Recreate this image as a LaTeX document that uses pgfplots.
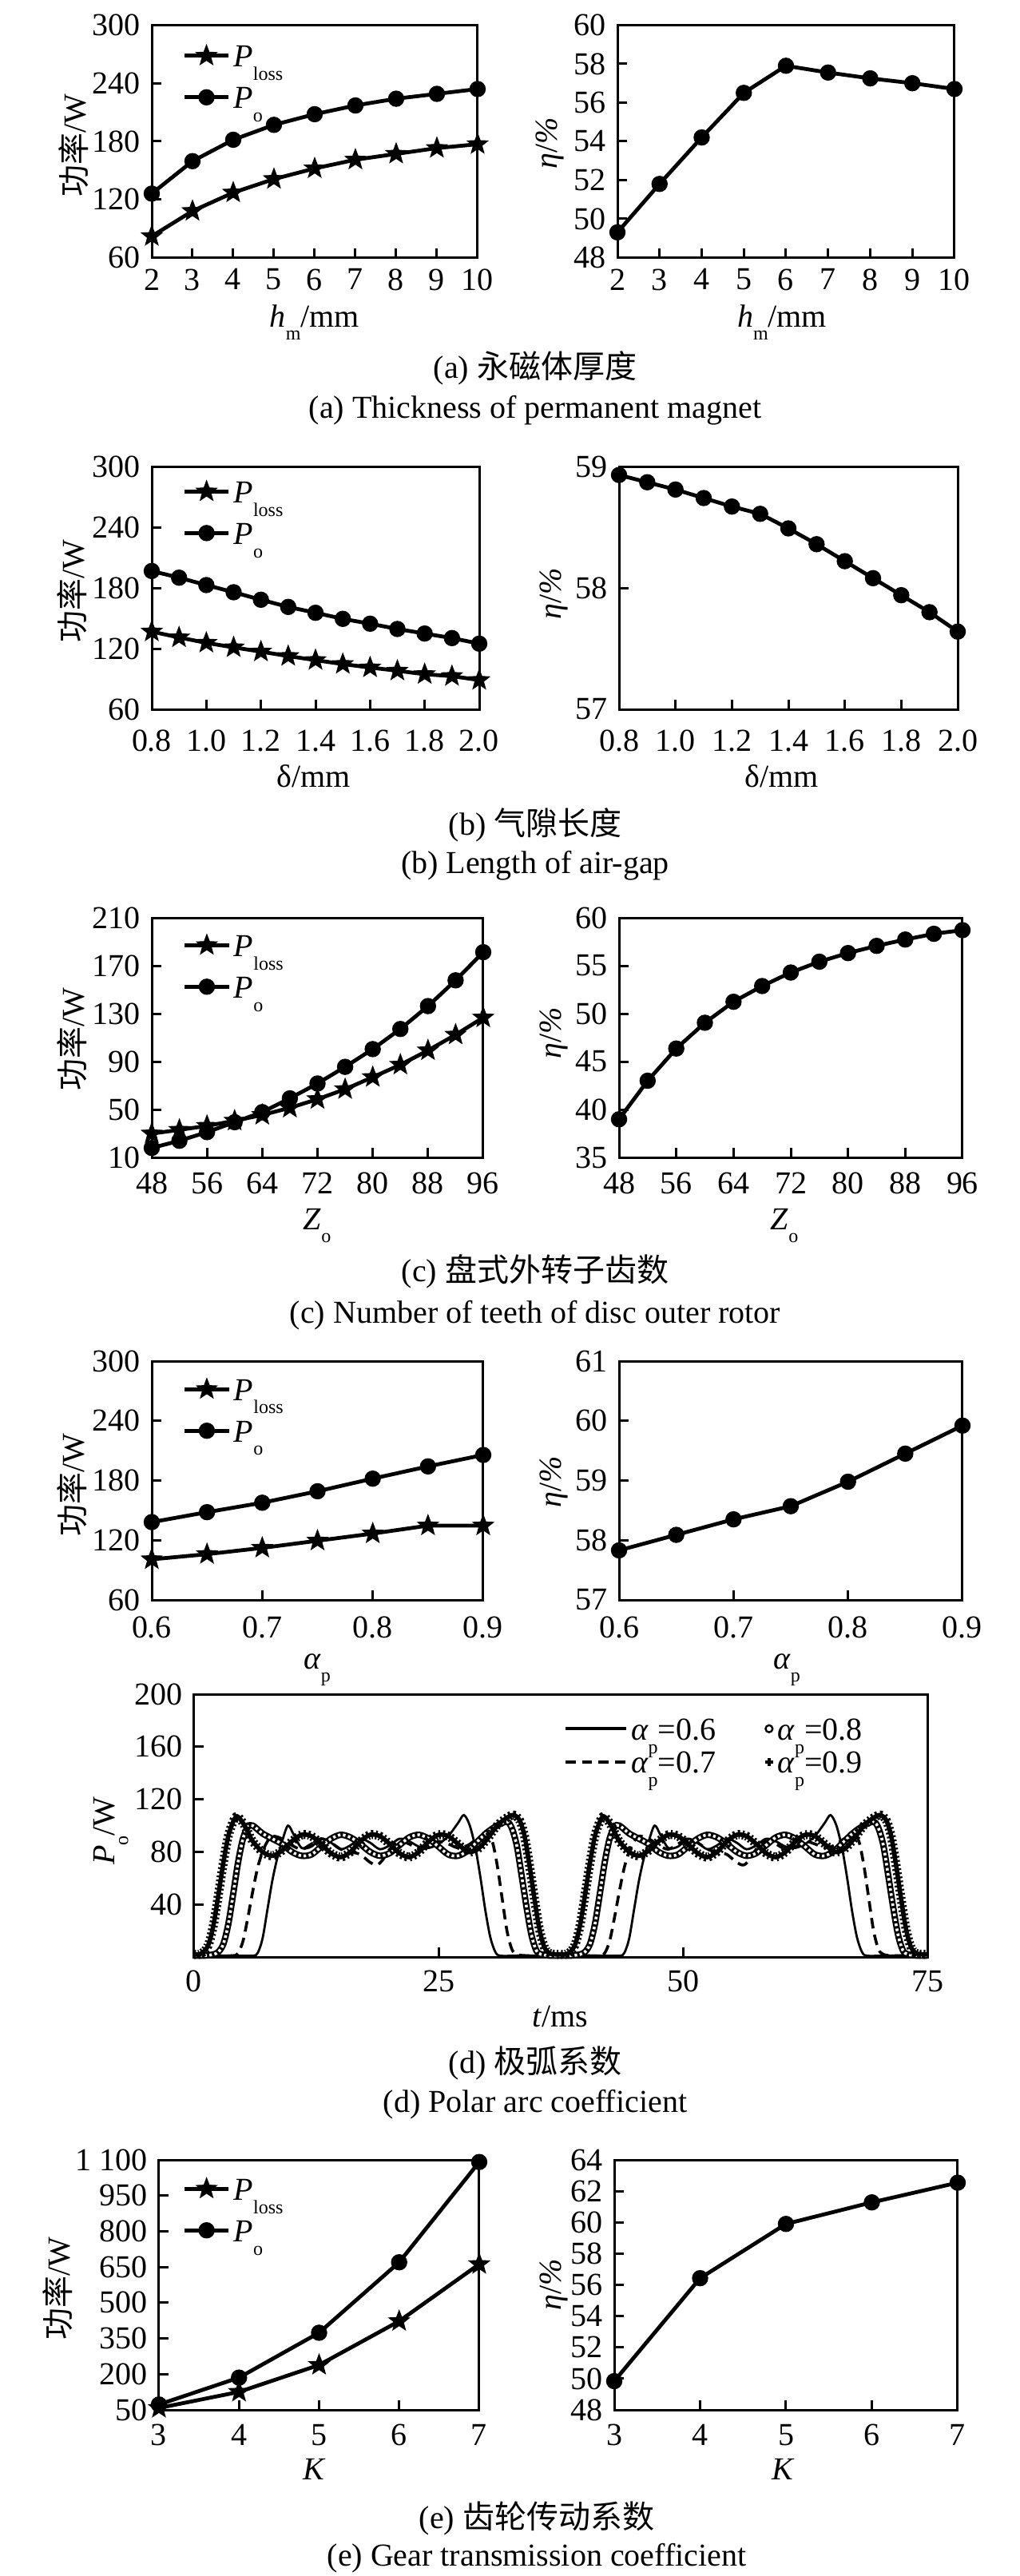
\documentclass[border=0pt]{standalone}
\usepackage{fontspec}
\setmainfont{Liberation Serif}
\newfontfamily\cjk{Noto Sans CJK SC}
\usepackage{pgfplots}
\pgfplotsset{compat=1.18}

% filled five-point star
\pgfdeclareplotmark{fstar}{%
  \pgfpathmoveto{\pgfpointpolar{90}{\pgfplotmarksize}}%
  \pgfpathlineto{\pgfpointpolar{126}{0.42*\pgfplotmarksize}}%
  \pgfpathlineto{\pgfpointpolar{162}{\pgfplotmarksize}}%
  \pgfpathlineto{\pgfpointpolar{198}{0.42*\pgfplotmarksize}}%
  \pgfpathlineto{\pgfpointpolar{234}{\pgfplotmarksize}}%
  \pgfpathlineto{\pgfpointpolar{270}{0.42*\pgfplotmarksize}}%
  \pgfpathlineto{\pgfpointpolar{306}{\pgfplotmarksize}}%
  \pgfpathlineto{\pgfpointpolar{342}{0.42*\pgfplotmarksize}}%
  \pgfpathlineto{\pgfpointpolar{18}{\pgfplotmarksize}}%
  \pgfpathlineto{\pgfpointpolar{54}{0.42*\pgfplotmarksize}}%
  \pgfpathclose
  \pgfusepathqfillstroke}

\newcommand\sub[1]{\raisebox{-4.2pt}{\fontsize{6}{7}\selectfont #1}}
\newcommand\gl{{\cjk 功率}/W}
\newcommand\el{\textit{η}/\textit{\%}}

\pgfplotsset{
  panel/.style={scale only axis, clip=false,
    axis line style={line width=0.75pt},
    tick pos=left, tick align=inside, major tick length=2.9pt,
    tick style={line width=0.75pt, black},
    every tick label/.append style={font=\fontsize{10}{12}\selectfont},
    /pgf/number format/assume math mode=true,
    legend cell align=left,
    legend style={draw=none, fill=none, font=\fontsize{10}{12}\selectfont,
      nodes={inner sep=1pt, text height=7pt, text depth=0pt}, row sep=4pt},
    legend image code/.code={\draw[mark repeat=2,mark phase=2,##1]
      plot coordinates {(0pt,0pt)(6.9pt,0pt)(13.8pt,0pt)};}},
  ploss/.style={black, line width=1.2pt, mark=fstar, mark size=3.3pt,
    mark options={line width=0.3pt, fill=black, solid}},
  po/.style={black, line width=1.2pt, mark=*, mark size=2.4pt,
    mark options={line width=0.3pt, fill=black, solid}},
}

\begin{document}
\begin{tikzpicture}
\useasboundingbox (0,0) rectangle (319pt,-806.25pt);

% ---------- (a) ----------
\begin{axis}[panel, at={(47.5pt,-7.85pt)}, anchor=north west, width=102pt, height=72.75pt,
  xmin=2, xmax=10, xtick={2,...,10}, ymin=60, ymax=300, ytick={60,120,...,300},
  legend style={at={(0.063,0.96)}, anchor=north west}]
\addplot[ploss] coordinates {(2,82)(3,108)(4,127)(5,141)(6,152)(7,161)(8,167)(9,173)(10,177)};
\addlegendentry{\textit{P}\sub{loss}}
\addplot[po] coordinates {(2,126)(3,159.5)(4,181.6)(5,197)(6,208)(7,217)(8,224)(9,229)(10,234)};
\addlegendentry{\textit{P}\sub{o}}
\end{axis}
\begin{axis}[panel, at={(193.25pt,-7.85pt)}, anchor=north west, width=105.5pt, height=72.75pt,
  xmin=2, xmax=10, xtick={2,...,10}, ymin=48, ymax=60, ytick={48,50,...,60}]
\addplot[po] coordinates {(2,49.3)(3,51.8)(4,54.2)(5,56.5)(6,57.9)(7,57.55)(8,57.25)(9,57.0)(10,56.7)};
\end{axis}

% ---------- (b) ----------
\begin{axis}[panel, at={(47.5pt,-146pt)}, anchor=north west, width=102.5pt, height=76pt,
  xmin=0.8, xmax=2.0, xtick={0.8,1.0,...,2.0}, xticklabels={0.8,1.0,1.2,1.4,1.6,1.8,2.0},
  xticklabel style={yshift=-3pt},
  ymin=60, ymax=300, ytick={60,120,...,300},
  legend style={at={(0.063,0.985)}, anchor=north west}]
\addplot[ploss] coordinates {(0.8,136.8)(0.9,131)(1.0,125.7)(1.1,121.2)(1.2,117)(1.3,112.6)(1.4,108.6)(1.5,104.7)(1.6,101.3)(1.7,98.1)(1.8,94.7)(1.9,92.8)(2.0,88.9)};
\addlegendentry{\textit{P}\sub{loss}}
\addplot[po] coordinates {(0.8,196.7)(0.9,190.1)(1.0,182.8)(1.1,175.7)(1.2,168.3)(1.3,161.2)(1.4,155.4)(1.5,149.4)(1.6,144.6)(1.7,139.4)(1.8,134.9)(1.9,130.4)(2.0,124.9)};
\addlegendentry{\textit{P}\sub{o}}
\end{axis}
\begin{axis}[panel, at={(193.75pt,-146pt)}, anchor=north west, width=106pt, height=76pt,
  xmin=0.8, xmax=2.0, xtick={0.8,1.0,...,2.0}, xticklabels={0.8,1.0,1.2,1.4,1.6,1.8,2.0},
  xticklabel style={yshift=-3pt},
  ymin=57, ymax=59, ytick={57,58,59}]
\addplot[po] coordinates {(0.8,58.93)(0.9,58.87)(1.0,58.81)(1.1,58.74)(1.2,58.67)(1.3,58.61)(1.4,58.49)(1.5,58.36)(1.6,58.22)(1.7,58.08)(1.8,57.94)(1.9,57.80)(2.0,57.64)};
\end{axis}

% ---------- (c) ----------
\begin{axis}[panel, at={(47.5pt,-287.25pt)}, anchor=north west, width=103.75pt, height=75pt,
  xmin=48, xmax=96, xtick={48,56,...,96}, xticklabel style={yshift=-1.2pt},
  ymin=10, ymax=210, ytick={10,50,...,210},
  legend style={at={(0.063,0.975)}, anchor=north west}]
\addplot[ploss] coordinates {(48,29.9)(52,33)(56,36.3)(60,40.6)(64,45.4)(68,51.4)(72,58.6)(76,66.9)(80,77)(84,87.3)(88,99.3)(92,112.4)(96,126.7)};
\addlegendentry{\textit{P}\sub{loss}}
\addplot[po] coordinates {(48,17.9)(52,23.9)(56,31.1)(60,39.4)(64,47.8)(68,59.3)(72,71.7)(76,85.6)(80,100.4)(84,117.2)(88,136.3)(92,157.8)(96,181.3)};
\addlegendentry{\textit{P}\sub{o}}
\end{axis}
\begin{axis}[panel, at={(193.75pt,-287.25pt)}, anchor=north west, width=107.5pt, height=75pt,
  xmin=48, xmax=96, xtick={48,56,...,96}, xticklabel style={yshift=-1.2pt},
  ymin=35, ymax=60, ytick={35,40,...,60}]
\addplot[po] coordinates {(48,38.98)(52,43.0)(56,46.36)(60,49.05)(64,51.24)(68,52.88)(72,54.29)(76,55.42)(80,56.32)(84,57.07)(88,57.73)(92,58.33)(96,58.71)};
\end{axis}

% ---------- (d) top row ----------
\begin{axis}[panel, at={(47.5pt,-426pt)}, anchor=north west, width=103.75pt, height=74.75pt,
  xmin=0.6, xmax=0.9, xtick={0.6,0.7,0.8,0.9}, xticklabels={0.6,0.7,0.8,0.9},
  xticklabel style={yshift=-1.8pt},
  ymin=60, ymax=300, ytick={60,120,...,300},
  legend style={at={(0.063,0.972)}, anchor=north west}]
\addplot[ploss] coordinates {(0.6,100.8)(0.65,106)(0.7,112.3)(0.75,119.5)(0.8,126.7)(0.85,134.7)(0.9,134.7)};
\addlegendentry{\textit{P}\sub{loss}}
\addplot[po] coordinates {(0.6,138.2)(0.65,148.2)(0.7,157.7)(0.75,169.2)(0.8,181.9)(0.85,194.2)(0.9,205.7)};
\addlegendentry{\textit{P}\sub{o}}
\end{axis}
\begin{axis}[panel, at={(193.75pt,-426pt)}, anchor=north west, width=107.5pt, height=74.75pt,
  xmin=0.6, xmax=0.9, xtick={0.6,0.7,0.8,0.9}, xticklabels={0.6,0.7,0.8,0.9},
  xticklabel style={yshift=-1.8pt},
  ymin=57, ymax=61, ytick={57,58,...,61}]
\addplot[po] coordinates {(0.6,57.83)(0.65,58.09)(0.7,58.35)(0.75,58.57)(0.8,58.98)(0.85,59.45)(0.9,59.92)};
\end{axis}

% ---------- (d) output power waveform ----------
\begin{axis}[panel, at={(60.75pt,-530.25pt)}, anchor=north west, width=229.5pt, height=82.25pt,
  xmin=0, xmax=75, xtick={0,25,50,75}, xticklabel style={yshift=-0.8pt},
  ymin=0, ymax=200, ytick={40,80,...,200},
  legend columns=2,
  legend style={at={(0.49,0.95)}, anchor=north west, row sep=1.4pt,
    /tikz/every even column/.append style={column sep=14pt}}]
\addlegendimage{legend image code/.code={\draw[black,line width=1.1pt] (0pt,0pt)--(19pt,0pt);}}
\addlegendentry{\textit{α}\sub{p}=0.6}
\addlegendimage{legend image code/.code={\draw[black,line width=0.6pt] (17pt,0pt) circle (1.1pt);}}
\addlegendentry{\textit{α}\sub{p}=0.8}
\addlegendimage{legend image code/.code={\draw[black,line width=1.1pt,dash pattern=on 3.2pt off 2pt] (0pt,0pt)--(19pt,0pt);}}
\addlegendentry{\textit{α}\sub{p}=0.7}
\addlegendimage{legend image code/.code={\draw[black,line width=0.9pt] (15.8pt,0pt)--(18.2pt,0pt) (17pt,-1.2pt)--(17pt,1.2pt);}}
\addlegendentry{\textit{α}\sub{p}=0.9}
% alpha_p = 0.6
\addplot[forget plot, black, line width=0.7pt, smooth, tension=0.5] coordinates {
(0,1)(2,1)(4,1)(6,1)(6.5,3)(7,14)(7.5,36)(8,58)(8.5,75)(9,88)(9.6,100)(10.2,93)(11,83)(12,84)(13,90)(14,87)(15,82)(16,85)(17,90)(18,87)(19,82)(20,85)(21,90)(22,88)(23,84)(24,83)(25,86)(26,92)(27,102)(27.6,108)(28.2,100)(28.8,82)(29.3,60)(29.8,35)(30.3,15)(30.8,4)(31.3,1)(33,1)(35,1)(37.5,1)
(39.5,1)(41.5,1)(43.5,1)(44,3)(44.5,14)(45,36)(45.5,58)(46,75)(46.5,88)(47.1,100)(47.7,93)(48.5,83)(49.5,84)(50.5,90)(51.5,87)(52.5,82)(53.5,85)(54.5,90)(55.5,87)(56.5,82)(57.5,85)(58.5,90)(59.5,88)(60.5,84)(61.5,83)(62.5,86)(63.5,92)(64.5,102)(65.1,108)(65.7,100)(66.3,82)(66.8,60)(67.3,35)(67.8,15)(68.3,4)(68.8,1)(70.5,1)(72.5,1)(75,1)};
% alpha_p = 0.7
\addplot[forget plot, black, line width=0.9pt, dash pattern=on 3.3pt off 2pt, smooth, tension=0.5] coordinates {
(0,1)(2,1)(4,1)(4.5,3)(5,12)(5.5,30)(6,50)(6.5,68)(7,80)(7.5,88)(8,92)(9,90)(10,85)(11,82)(12,86)(13,90)(14,87)(15,82)(16,80)(17,78)(18,72)(18.7,70)(19.3,74)(20,82)(21,88)(22,86)(23,82)(24,84)(25,88)(26,86)(27,83)(28,85)(29,90)(30,92)(30.5,88)(31,70)(31.5,45)(32,20)(32.5,6)(33,2)(34,1)(36,1)(37.5,1)
(39.5,1)(41.5,1)(42,3)(42.5,12)(43,30)(43.5,50)(44,68)(44.5,80)(45,88)(45.5,92)(46.5,90)(47.5,85)(48.5,82)(49.5,86)(50.5,90)(51.5,87)(52.5,82)(53.5,80)(54.5,78)(55.5,72)(56.2,70)(56.8,74)(57.5,82)(58.5,88)(59.5,86)(60.5,82)(61.5,84)(62.5,88)(63.5,86)(64.5,83)(65.5,85)(66.5,90)(67.5,92)(68,88)(68.5,70)(69,45)(69.5,20)(70,6)(70.5,2)(71.5,1)(73.5,1)(75,1)};
% alpha_p = 0.8 (band of small circles)
\addplot[forget plot, black, line width=2pt, smooth, tension=0.5,
  postaction={draw=white, line width=0.9pt, dash pattern=on 0.8pt off 0.8pt}] coordinates {
(0,1)(1,1)(2,2)(2.5,4)(3,10)(3.5,25)(4,48)(4.5,72)(5,90)(5.5,99)(6,100)(7,94)(8,90)(9,86)(10,80)(11,77)(12,78)(13,84)(14,90)(15,93)(16,91)(17,86)(18,80)(19,77)(20,79)(21,85)(22,91)(23,93)(24,90)(25,84)(26,78)(27,77)(28,81)(29,88)(30,95)(31,100)(32,103)(32.5,98)(33,85)(33.5,62)(34,38)(34.5,17)(35,5)(35.5,2)(36.5,1)(37.5,1)
(38.5,1)(39.5,2)(40,4)(40.5,10)(41,25)(41.5,48)(42,72)(42.5,90)(43,99)(43.5,100)(44.5,94)(45.5,90)(46.5,86)(47.5,80)(48.5,77)(49.5,78)(50.5,84)(51.5,90)(52.5,93)(53.5,91)(54.5,86)(55.5,80)(56.5,77)(57.5,79)(58.5,85)(59.5,91)(60.5,93)(61.5,90)(62.5,84)(63.5,78)(64.5,77)(65.5,81)(66.5,88)(67.5,95)(68.5,100)(69.5,103)(70,98)(70.5,85)(71,62)(71.5,38)(72,17)(72.5,5)(73,2)(74,1)(75,1)};
% alpha_p = 0.9 (band of plus marks)
\addplot[forget plot, black, line width=1.4pt, smooth, tension=0.5,
  postaction={draw=black, line width=2.8pt, dash pattern=on 0.55pt off 0.75pt}] coordinates {
(0,2)(0.5,2)(1,4)(1.5,10)(2,25)(2.5,48)(3,72)(3.5,92)(4,103)(4.4,107)(5,102)(5.5,95)(6,88)(7,80)(8,77)(9,81)(10,88)(11,93)(12,92)(13,86)(14,79)(15,76)(16,80)(17,88)(18,93)(19,92)(20,86)(21,79)(22,76)(23,80)(24,88)(25,93)(26,92)(27,86)(28,80)(29,82)(30,90)(31,100)(32,106)(32.7,108)(33.3,104)(33.8,92)(34.3,70)(34.8,45)(35.3,22)(35.8,8)(36.3,3)(37,2)(37.5,2)
(38,2)(38.5,4)(39,10)(39.5,25)(40,48)(40.5,72)(41,92)(41.5,103)(41.9,107)(42.5,102)(43,95)(43.5,88)(44.5,80)(45.5,77)(46.5,81)(47.5,88)(48.5,93)(49.5,92)(50.5,86)(51.5,79)(52.5,76)(53.5,80)(54.5,88)(55.5,93)(56.5,92)(57.5,86)(58.5,79)(59.5,76)(60.5,80)(61.5,88)(62.5,93)(63.5,92)(64.5,86)(65.5,80)(66.5,82)(67.5,90)(68.5,100)(69.5,106)(70.2,108)(70.8,104)(71.3,92)(71.8,70)(72.3,45)(72.8,22)(73.3,8)(73.8,3)(74.5,2)(75,2)};
\end{axis}

% ---------- (e) ----------
\begin{axis}[panel, at={(49.75pt,-676pt)}, anchor=north west, width=100.25pt, height=78.25pt,
  xmin=3, xmax=7, xtick={3,...,7}, xticklabel style={yshift=-1pt},
  ymin=50, ymax=1100, ytick={50,200,350,500,650,800,950,1100},
  yticklabels={50,200,350,500,650,800,950,{1\hspace{0.25em}100}},
  legend style={at={(0.042,0.97)}, anchor=north west}]
\addplot[ploss] coordinates {(3,58)(4,125.6)(5,238.5)(6,422.6)(7,662)};
\addlegendentry{\textit{P}\sub{loss}}
\addplot[po] coordinates {(3,72.6)(4,185.5)(5,374)(6,670)(7,1091)};
\addlegendentry{\textit{P}\sub{o}}
\end{axis}
\begin{axis}[panel, at={(192.25pt,-676pt)}, anchor=north west, width=107.5pt, height=78.25pt,
  xmin=3, xmax=7, xtick={3,...,7}, xticklabel style={yshift=-1pt},
  ymin=48, ymax=64, ytick={48,50,...,64}]
\addplot[po] coordinates {(3,49.84)(4,56.43)(5,59.9)(6,61.28)(7,62.54)};
\end{axis}

% ---------- labels and captions ----------
\begin{scope}[x=0.25pt, y=-0.25pt]
\node[rotate=90] at (92,182) {\gl};
\node[rotate=90] at (688,179) {\el};
\node[anchor=base] at (394,409) {\textit{h}\sub{m}/mm};
\node[anchor=base] at (979,409) {\textit{h}\sub{m}/mm};
\node at (670,461) {(a) {\cjk 永磁体厚度}};
\node at (670,514) {(a) Thickness of permanent magnet};

\node[rotate=90] at (90,740) {\gl};
\node[rotate=90] at (693,743) {\el};
\node[anchor=base] at (393,985) {δ/mm};
\node[anchor=base] at (979,985) {δ/mm};
\node at (670,1033) {(b) {\cjk 气隙长度}};
\node at (670,1084) {(b) Length of air-gap};

\node[rotate=90] at (90,1301) {\gl};
\node[rotate=90] at (693,1293) {\el};
\node[anchor=base] at (397,1539) {\textit{Z}\sub{o}};
\node[anchor=base] at (982,1539) {\textit{Z}\sub{o}};
\node at (670,1592) {(c) {\cjk 盘式外转子齿数}};
\node at (670,1647) {(c) Number of teeth of disc outer rotor};

\node[rotate=90] at (90,1859) {\gl};
\node[rotate=90] at (693,1855) {\el};
\node[anchor=base] at (397,2089) {\textit{α}\sub{p}};
\node[anchor=base] at (985,2089) {\textit{α}\sub{p}};
\node[rotate=90] at (139,2292) {\textit{P}\sub{o}/W};
\node[anchor=base] at (701,2537) {\textit{t}/ms};
\node at (670,2583) {(d) {\cjk 极弧系数}};
\node at (670,2635) {(d) Polar arc coefficient};

\node[rotate=90] at (72,2865) {\gl};
\node[rotate=90] at (693,2860) {\el};
\node[anchor=base] at (394,3104) {\textit{K}};
\node[anchor=base] at (981,3104) {\textit{K}};
\node at (672,3153) {(e) {\cjk 齿轮传动系数}};
\node at (672,3203) {(e) Gear transmission coefficient};
\end{scope}
\end{tikzpicture}
\end{document}
